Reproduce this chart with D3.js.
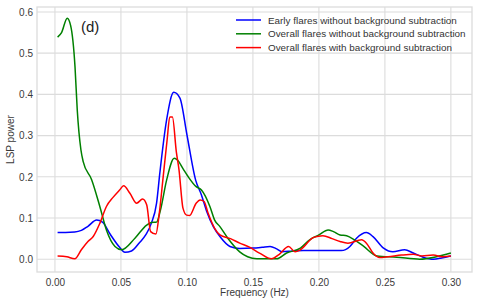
<!DOCTYPE html>
<html><head><meta charset="utf-8">
<script src="https://cdn.jsdelivr.net/npm/d3@7/dist/d3.min.js"></script>
<style>body{margin:0;background:#fff}svg{display:block}text{font-family:"Liberation Sans",Arial,sans-serif}</style>
</head><body><svg id="c" width="479" height="304"></svg>
<script>
const xTicks = [0.00,0.05,0.10,0.15,0.20,0.25,0.30];
const yTicks = [0.0,0.1,0.2,0.3,0.4,0.5,0.6];
const seriesNames = ["Early flares without background subtraction","Overall flares without background subtraction","Overall flares with background subtraction"];
const seriesColors = ["#0000ff","#008000","#ff0000"];

const earlyF = [0.002,0.008,0.015,0.020,0.025,0.0316,0.036,0.042,0.049,0.053,0.058,0.064,0.069,0.073,0.077,0.0795,0.0846,0.090,0.0947,0.100,0.1066,0.111,0.115,0.120,0.125,0.1326,0.140,0.150,0.157,0.163,0.168,0.172,0.180,0.188,0.200,0.210,0.217,0.2235,0.2285,0.236,0.241,0.249,0.256,0.265,0.2715,0.279,0.2866,0.293,0.300];
const earlyV = [0.065,0.065,0.066,0.070,0.080,0.095,0.090,0.060,0.029,0.017,0.020,0.040,0.060,0.087,0.136,0.210,0.338,0.405,0.391,0.302,0.192,0.156,0.116,0.079,0.055,0.031,0.026,0.027,0.029,0.031,0.025,0.018,0.020,0.021,0.021,0.021,0.021,0.031,0.051,0.065,0.055,0.027,0.018,0.023,0.015,0.005,0.000,0.003,0.008];

const overallF = [0.002,0.005,0.0093,0.0119,0.0152,0.0169,0.0197,0.0214,0.0278,0.034,0.039,0.0455,0.0505,0.0606,0.0695,0.073,0.077,0.080,0.0846,0.0904,0.093,0.097,0.101,0.107,0.111,0.1174,0.121,0.125,0.131,0.140,0.146,0.153,0.160,0.168,0.1755,0.186,0.193,0.200,0.207,0.211,0.216,0.221,0.227,0.234,0.244,0.259,0.2765,0.289,0.300];
const overallV = [0.539,0.550,0.585,0.567,0.467,0.362,0.265,0.237,0.193,0.128,0.071,0.031,0.023,0.051,0.083,0.089,0.090,0.120,0.192,0.245,0.240,0.220,0.200,0.176,0.168,0.128,0.095,0.079,0.051,0.018,0.006,0.001,0.001,0.001,0.015,0.027,0.047,0.059,0.071,0.067,0.059,0.057,0.047,0.031,0.008,0.005,0.000,0.006,0.015];

const bgF = [0.002,0.009,0.015,0.020,0.025,0.029,0.034,0.039,0.044,0.049,0.052,0.0568,0.0619,0.0664,0.0695,0.0725,0.0765,0.079,0.082,0.085,0.087,0.089,0.092,0.094,0.097,0.0998,0.102,0.107,0.110,0.113,0.116,0.121,0.125,0.133,0.140,0.147,0.155,0.164,0.170,0.177,0.182,0.186,0.196,0.203,0.210,0.216,0.222,0.2323,0.236,0.241,0.246,0.2525,0.2626,0.2715,0.278,0.2866,0.294,0.300];
const bgV = [0.008,0.006,0.001,0.023,0.043,0.055,0.087,0.128,0.150,0.168,0.178,0.160,0.136,0.146,0.132,0.067,0.061,0.110,0.200,0.290,0.345,0.345,0.260,0.217,0.124,0.107,0.106,0.136,0.144,0.140,0.112,0.075,0.059,0.050,0.039,0.030,0.015,0.001,0.012,0.031,0.018,0.023,0.053,0.057,0.050,0.043,0.039,0.047,0.039,0.015,0.004,0.006,0.010,0.012,0.008,0.010,0.006,0.008];

const svg = d3.select("#c");
const L=37, R=472, T=7, B=272;
const x = d3.scaleLinear().domain([-0.0136,0.316]).range([L,R]);
const y = d3.scaleLinear().domain([-0.031,0.612]).range([B,T]);
const grid = "#dcdcdc", txt = "#3a3a3a";

const g = svg.append("g");
g.selectAll(".gx").data(xTicks).enter().append("line")
  .attr("x1",d=>x(d)).attr("x2",d=>x(d)).attr("y1",T).attr("y2",B)
  .attr("stroke",grid).attr("stroke-width",1.1);
g.selectAll(".gy").data(yTicks).enter().append("line")
  .attr("y1",d=>y(d)).attr("y2",d=>y(d)).attr("x1",L).attr("x2",R)
  .attr("stroke",grid).attr("stroke-width",1.1);
g.append("rect").attr("x",L).attr("y",T).attr("width",R-L).attr("height",B-T)
  .attr("fill","none").attr("stroke",grid).attr("stroke-width",1.3);

const xa = svg.append("g").attr("transform",`translate(0,${B})`)
  .call(d3.axisBottom(x).tickValues(xTicks).tickFormat(d3.format(".2f")).tickSize(0).tickPadding(7));
const ya = svg.append("g").attr("transform",`translate(${L},0)`)
  .call(d3.axisLeft(y).tickValues(yTicks).tickFormat(d3.format(".1f")).tickSize(0).tickPadding(4));
[xa,ya].forEach(a=>{a.select(".domain").remove();a.selectAll("text").attr("fill",txt).style("font-size","10px").style("font-family",'"Liberation Sans",Arial,sans-serif');});

svg.append("text").attr("x",(L+R)/2).attr("y",296).attr("text-anchor","middle")
  .attr("fill",txt).style("font-size","10px").text("Frequency (Hz)");
svg.append("text").attr("transform",`translate(14,${(T+B)/2}) rotate(-90)`).attr("text-anchor","middle")
  .attr("fill",txt).style("font-size","10px").text("LSP power");

const data = [[earlyF,earlyV],[overallF,overallV],[bgF,bgV]];
const line = d3.line().x(d=>x(d[0])).y(d=>y(d[1])).curve(d3.curveMonotoneX);
data.forEach((s,i)=>{
  const pts = s[0].map((f,j)=>[f,s[1][j]]);
  svg.append("path").datum(pts).attr("d",line).attr("fill","none")
    .attr("stroke",seriesColors[i]).attr("stroke-width",1.5).attr("stroke-linejoin","round");
});

svg.append("text").attr("x",81).attr("y",32).attr("fill","#222").style("font-size","15px").text("(d)");

const lg = svg.append("g");
seriesNames.forEach((n,i)=>{
  const yy = 20 + i*13.8;
  lg.append("line").attr("x1",236).attr("x2",261).attr("y1",yy).attr("y2",yy)
    .attr("stroke",seriesColors[i]).attr("stroke-width",1.5);
  lg.append("text").attr("x",268).attr("y",yy+3.5).attr("fill","#333").style("font-size","9.9px").text(n);
});
</script></body></html>
